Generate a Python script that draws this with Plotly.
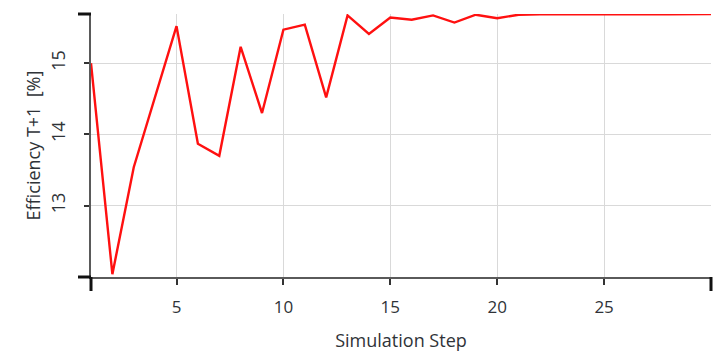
import plotly.graph_objects as go

# Simulation step and efficiency of the following step
steps = list(range(1, 31))
efficiency = [15.00, 12.04, 13.54, 14.54, 15.52, 13.87, 13.70, 15.23, 14.30, 15.47,
              15.54, 14.52, 15.67, 15.41, 15.64, 15.61, 15.67, 15.57, 15.68, 15.63,
              15.68, 15.685, 15.68, 15.685, 15.685, 15.69, 15.69, 15.685, 15.69, 15.69]

x_ticks = [5, 10, 15, 20, 25]
y_ticks = [13, 14, 15]
y_min, y_max = 12.0, 15.69

font_family = "Open Sans, Noto Sans, sans-serif"
text_color = "#2f3338"
axis_grey = "#5a5a5a"

fig = go.Figure()
fig.add_trace(go.Scatter(
    x=steps, y=efficiency, mode="lines",
    line=dict(color="#ff1010", width=2.4),
    cliponaxis=False, showlegend=False,
))

fig.update_layout(
    width=718, height=354,
    margin=dict(l=91, r=7, t=14, b=77),
    paper_bgcolor="white", plot_bgcolor="white",
    font=dict(family=font_family, size=17, color=text_color),
)

fig.update_xaxes(
    range=[1, 30], automargin=False,
    tickvals=x_ticks + [30], ticktext=[str(v) for v in x_ticks] + [""],
    ticks="outside", ticklen=6, tickwidth=2, tickcolor="#333333",
    showline=True, linecolor=axis_grey, linewidth=2,
    showgrid=True, gridcolor="#d9d9d9", gridwidth=1,
    zeroline=False,
    title=dict(text="Simulation Step", font=dict(size=18, color=text_color), standoff=17),
    tickfont=dict(size=17, color=text_color),
    ticklabelstandoff=8,
)

fig.update_yaxes(
    range=[y_min, y_max], automargin=False,
    tickvals=y_ticks + [y_max], ticktext=[str(v) for v in y_ticks] + [""],
    ticks="outside", ticklen=5, tickwidth=2, tickcolor="#333333",
    tickangle=-90,
    showline=True, linecolor=axis_grey, linewidth=2,
    showgrid=True, gridcolor="#d9d9d9", gridwidth=1,
    zeroline=False,
    title=dict(text="Efficiency T+1  [%]", font=dict(size=18, color=text_color), standoff=0),
    tickfont=dict(size=18, color=text_color),
    ticklabelstandoff=12,
)

# Heavier end markers at the ends of both axes
end_marks = [
    dict(xref="x domain", yref="y domain", xsizemode="pixel", xanchor=0,
         x0=-13, x1=0, y0=1, y1=1),
    dict(xref="x domain", yref="y domain", xsizemode="pixel", xanchor=0,
         x0=-13, x1=0, y0=0, y1=0),
    dict(xref="x domain", yref="y domain", ysizemode="pixel", yanchor=0,
         x0=0, x1=0, y0=0, y1=-14),
    dict(xref="x domain", yref="y domain", ysizemode="pixel", yanchor=0,
         x0=1, x1=1, y0=0, y1=-14),
]
for m in end_marks:
    fig.add_shape(type="line", line=dict(color="#111111", width=3), **m)

fig.write_html("out.html")
